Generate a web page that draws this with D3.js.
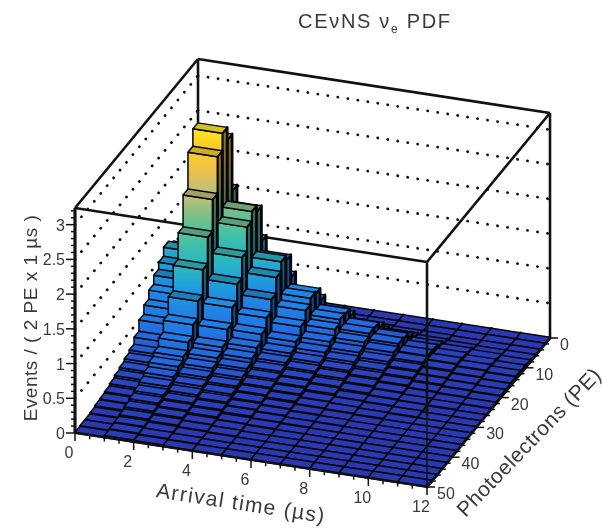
<!DOCTYPE html>
<meta charset="utf-8">
<title>CEvNS PDF</title>

<style>
body {
  margin: 0px;
  background-color: white;
}
svg {
  display: block;
  filter: blur(0.7px);
}
text {
  font-family: "Liberation Sans", sans-serif;
  fill: #3a3a3a;
}
</style>

<script src="https://cdnjs.cloudflare.com/ajax/libs/d3/7.8.5/d3.min.js"></script>

<body>
<script>

var width = 608, height = 530;

// Bin edges (1 us x 2 PE), the front edge of each PE bin is listed
var timeEdges = d3.range(0, 12);
var peFrontEdges = d3.range(2, 52, 2);

// Events per bin, one list per time bin
var t0  = [.02,.03,.10,.31,.74,1.05,1.13,1.00,.90,.77,.64,.51,.35,.25,.21,.17,.14,.11,.08,.06,.05,.03,.02,.02,.01];
var t1  = [.04,.08,.25,.80,1.90,2.72,2.90,2.65,2.12,1.66,1.28,.91,.66,.49,.37,.31,.25,.20,.16,.13,.10,.07,.05,.04,.03];
var t2  = [.03,.05,.16,.52,1.24,1.75,1.84,1.70,1.35,1.05,.80,.57,.40,.33,.27,.22,.18,.14,.11,.09,.07,.05,.03,.03,.02];
var t3  = [.02,.03,.10,.33,.78,1.11,1.18,1.04,.81,.63,.48,.37,.30,.24,.20,.16,.13,.10,.08,.06,.04,.03,.02,.02,.01];
var t4  = [.01,.02,.07,.22,.51,.69,.72,.63,.48,.35,.27,.22,.18,.15,.12,.10,.08,.06,.05,.03,.02,.02,.01,.01,.01];
var t5  = [.01,.01,.05,.14,.34,.46,.48,.42,.33,.26,.20,.16,.13,.11,.09,.07,.05,.04,.03,.02,.01,.01,.01,.01,.01];
var t6  = [.01,.01,.03,.10,.24,.33,.34,.30,.24,.19,.15,.12,.09,.07,.05,.04,.03,.02,.02,.01,.01,.01,.01,.01,.01];
var t7  = [.01,.01,.02,.07,.16,.24,.26,.22,.17,.13,.10,.08,.06,.04,.03,.03,.02,.02,.01,.01,.01,.01,.01,.01,.01];
var t8  = [.01,.01,.02,.05,.10,.14,.15,.14,.11,.09,.07,.05,.04,.03,.02,.02,.01,.01,.01,.01,.01,.01,.01,.01,.01];
var t9  = [.01,.01,.01,.03,.07,.09,.10,.09,.07,.06,.04,.03,.03,.02,.02,.01,.01,.01,.01,.01,.01,.01,.01,.01,.01];
var t10 = [.01,.01,.01,.02,.05,.06,.07,.06,.05,.04,.03,.02,.02,.01,.01,.01,.01,.01,.01,.01,.01,.01,.01,.01,.01];
var t11 = [.01,.01,.01,.02,.03,.04,.05,.04,.03,.03,.02,.02,.01,.01,.01,.01,.01,.01,.01,.01,.01,.01,.01,.01,.01];
var binValues = [t0, t1, t2, t3, t4, t5, t6, t7, t8, t9, t10, t11];

// Axis tick labels
var zLabels = ["0", "0.5", "1", "1.5", "2", "2.5", "3"];
var timeTicks = [0, 2, 4, 6, 8, 10, 12];
var peTicks = [0, 10, 20, 30, 40, 50];

// Colour palette, from the height of a bar
var paletteZ = [0, 0.1, 0.2, 0.3, 0.47, 0.7, 0.95, 1.2, 1.5, 1.8, 2.1, 2.4, 2.7, 3.0];
var paletteColors = ["#2b38b0", "#2a42bc", "#2654cc", "#2268dc", "#2078e4", "#2084e6", "#1f9cdc", "#2ab4c4", "#40c0a8", "#78c088", "#c0c078", "#f0c048", "#f8d028", "#fff41e"];
var palette = d3.scaleLinear().domain(paletteZ).range(paletteColors);

var zMax = 3.24;
var originX = 75, originY = 433;

// Oblique projection: each axis is a screen vector
var tX = d3.scaleLinear().domain([0, 12]).range([0, 352]);
var tY = d3.scaleLinear().domain([0, 12]).range([0, 54]);
var peX = d3.scaleLinear().domain([50, 0]).range([0, 123]);
var peY = d3.scaleLinear().domain([50, 0]).range([0, -149]);
var zH = d3.scaleLinear().domain([0, zMax]).range([0, 225]);

function px(t, pe) { return originX + tX(t) + peX(pe); }
function py(t, pe, z) { return originY + tY(t) + peY(pe) - zH(z); }
function pt(t, pe, z) { return [px(t, pe), py(t, pe, z)]; }

var svg = d3.select("body").append("svg")
    .attr("width", width)
    .attr("height", height);

// Shared vertical gradients, used in each bar's local coordinates
var defs = svg.append("defs");
function addGradient(id, k) {
  var g = defs.append("linearGradient")
      .attr("id", id)
      .attr("gradientUnits", "userSpaceOnUse")
      .attr("x1", 0).attr("x2", 0)
      .attr("y1", 0).attr("y2", -zH(3.0));
  paletteZ.forEach(function(z, i) {
    g.append("stop")
      .attr("offset", z / 3.0)
      .attr("stop-color", d3.rgb(paletteColors[i]).darker(k));
  });
}
addGradient("frontFace", 0);
addGradient("sideFace", 1.6);

var line = d3.line();
function drawLine(g, a, b, w, dash) {
  var l = g.append("path")
    .attr("d", line([a, b]))
    .attr("fill", "none")
    .attr("stroke", "#111")
    .attr("stroke-width", w);
  if (dash) l.attr("stroke-dasharray", dash).attr("stroke-linecap", "round");
  return l;
}

// Back walls with dotted grid lines
var walls = svg.append("g");
[0.5, 1, 1.5, 2, 2.5, 3].forEach(function(z) {
  drawLine(walls, pt(0, 50, z), pt(0, 0, z), 2.8, "0.1,10");
  drawLine(walls, pt(0, 0, z), pt(12, 0, z), 2.8, "0.1,10");
});
// Frame
drawLine(walls, pt(0, 50, 0), pt(0, 50, zMax), 2.6);
drawLine(walls, pt(0, 50, zMax), pt(0, 0, zMax), 2.6);
drawLine(walls, pt(0, 0, zMax), pt(12, 0, zMax), 2.6);
drawLine(walls, pt(12, 0, zMax), pt(12, 50, zMax), 2.6);
drawLine(walls, pt(12, 50, zMax), pt(0, 50, zMax), 2.6);
drawLine(walls, pt(0, 0, zMax), pt(0, 0, 0), 2.6);
drawLine(walls, pt(12, 0, zMax), pt(12, 0, 0), 2.6);

// Lego bars, painted from the back row to the front row
var bars = svg.append("g")
    .attr("stroke", "#05050c")
    .attr("stroke-width", 1.5)
    .attr("stroke-linejoin", "round");

peFrontEdges.forEach(function(peFront, j) {
  var peBack = peFront - 2;
  timeEdges.forEach(function(t, i) {
    var z = binValues[i][j];
    var h = zH(z);
    var g = bars.append("g")
        .attr("transform", "translate(" + px(t, peFront) + "," + py(t, peFront, 0) + ")");
    var wx = tX(1), wy = tY(1);
    var dx = peX(peBack) - peX(peFront), dy = peY(peBack) - peY(peFront);
    // right side, its edges read as the thick lines between the columns
    g.append("path")
      .attr("d", line([[wx, wy], [wx + dx, wy + dy], [wx + dx, wy + dy - h], [wx, wy - h]]) + "Z")
      .attr("fill", "url(#sideFace)")
      .attr("stroke-width", 2.8);
    // front
    g.append("path")
      .attr("d", line([[0, 0], [wx, wy], [wx, wy - h], [0, -h]]) + "Z")
      .attr("fill", "url(#frontFace)");
    // top, only the tall bars get a shaded lid
    g.append("path")
      .attr("d", line([[0, -h], [wx, wy - h], [wx + dx, wy + dy - h], [dx, dy - h]]) + "Z")
      .attr("fill", d3.rgb(palette(Math.min(z, 3))).darker(z > 0.8 ? 0.5 : 0));
  });
});

// The front edge stays visible over the floor
drawLine(svg, pt(12, 50, 0), pt(12, 50, 1.02), 1.8).attr("stroke-opacity", 0.8);
drawLine(svg, pt(12, 50, 1.02), pt(12, 50, zMax), 2.6);

// Axes
var axes = svg.append("g");

// z axis, on the left front edge
drawLine(axes, pt(0, 50, 0), pt(0, 50, zMax), 2.8);
d3.range(0, 33).forEach(function(k) {
  var z = k / 10;
  var p = pt(0, 50, z);
  var major = k % 5 === 0;
  drawLine(axes, [p[0] - (major ? 9 : 4), p[1]], p, 1.5);
});
zLabels.forEach(function(label) {
  var p = pt(0, 50, +label);
  axes.append("text")
    .attr("x", p[0] - 10)
    .attr("y", p[1] + 6)
    .attr("text-anchor", "end")
    .style("font-size", "16px")
    .text(label);
});

// time axis
drawLine(axes, pt(0, 50, 0), pt(12, 50, 0), 1.8);
d3.range(0, 24.5).forEach(function(k) {
  var p = pt(k / 2, 50, 0);
  drawLine(axes, p, [p[0], p[1] + (k % 4 === 0 ? 8 : 4)], 1.5);
});
timeTicks.forEach(function(t) {
  var p = pt(t, 50, 0);
  axes.append("text")
    .attr("x", p[0] - 6)
    .attr("y", p[1] + 25)
    .attr("text-anchor", "middle")
    .style("font-size", "16px")
    .text(t);
});

// PE axis
drawLine(axes, pt(12, 50, 0), pt(12, 0, 0), 1.8);
d3.range(0, 51, 2).forEach(function(pe) {
  var p = pt(12, pe, 0);
  drawLine(axes, p, [p[0] + (pe % 10 === 0 ? 8 : 4), p[1]], 1.5);
});
peTicks.forEach(function(pe) {
  var p = pt(12, pe, 0);
  axes.append("text")
    .attr("x", p[0] + 10)
    .attr("y", p[1] + 12)
    .style("font-size", "16px")
    .text(pe);
});

// Titles
function axisTitle(x, y, angle, size, spacing, label) {
  svg.append("text")
    .attr("transform", "translate(" + x + "," + y + ") rotate(" + angle + ")")
    .attr("text-anchor", "middle")
    .style("font-size", size + "px")
    .style("letter-spacing", spacing + "px")
    .text(label);
}
axisTitle(240, 510, 8.7, 21, 1.4, "Arrival time (\u00b5s)");
axisTitle(534, 447, -46, 21, 0.5, "Photoelectrons (PE)");
axisTitle(37, 318, -90, 19, 0.5, "Events / ( 2 PE x 1 \u00b5s )");

var title = svg.append("text")
    .attr("x", 298)
    .attr("y", 28)
    .style("font-size", "20px")
    .style("letter-spacing", "1.7px");
title.append("tspan").text("CE\u03bdNS \u03bd");
title.append("tspan").attr("dy", 5).style("font-size", "12px").text("e");
title.append("tspan").attr("dy", -5).text(" PDF");

</script>
